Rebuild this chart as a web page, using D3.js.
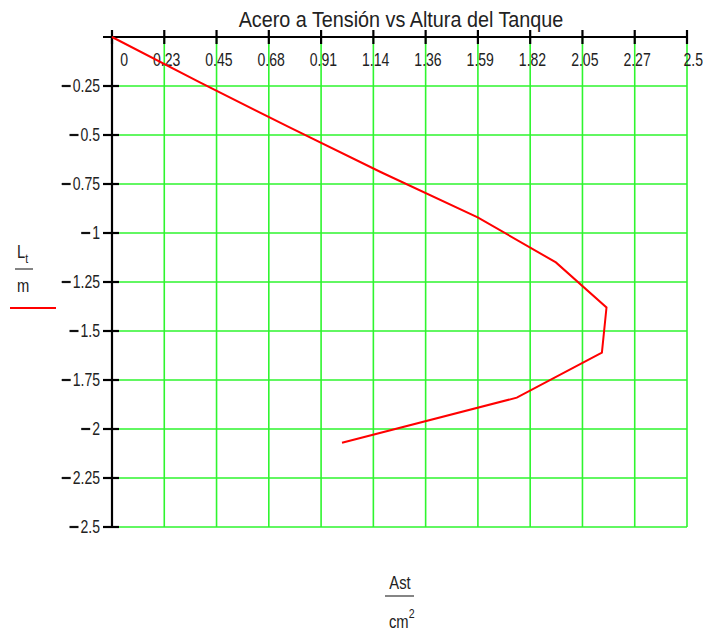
<!DOCTYPE html>
<html>
<head>
<meta charset="utf-8">
<script src="https://cdn.jsdelivr.net/npm/d3@7"></script>
<style>
  html, body { margin: 0; padding: 0; background: #fff; }
  svg text { font-family: "Liberation Sans Narrow", "Arial Narrow", "Liberation Sans", sans-serif; fill: #222; }
</style>
</head>
<body>
<svg id="chart" width="703" height="634"></svg>
<script>
// Acero a tensión (cm²) a lo largo de la altura del tanque (m)
const lt = [0, -0.23, -0.46, -0.69, -0.92, -1.15, -1.38, -1.61, -1.84, -2.07];
const ast = [0, 0.38, 0.77, 1.17, 1.59, 1.93, 2.15, 2.13, 1.76, 1.00];

const xTicks = [0, 0.23, 0.45, 0.68, 0.91, 1.14, 1.36, 1.59, 1.82, 2.05, 2.27, 2.5];
const xTickLabels = ["0", "0.23", "0.45", "0.68", "0.91", "1.14", "1.36", "1.59", "1.82", "2.05", "2.27", "2.5"];
const yTicks = [-0.25, -0.5, -0.75, -1, -1.25, -1.5, -1.75, -2, -2.25, -2.5];
const yTickLabels = ["0.25", "0.5", "0.75", "1", "1.25", "1.5", "1.75", "2", "2.25", "2.5"];

const title = "Acero a Tensión vs Altura del Tanque";

const svg = d3.select("#chart");
const plotL = 112, plotR = 687, plotT = 37, plotB = 527;

// condensed text: horizontally squeezed so the face reads narrow
function label(parent, X, Y, str, size, sx, anchor) {
  return parent.append("text")
    .attr("transform", `scale(${sx},1)`)
    .attr("x", X / sx).attr("y", Y)
    .attr("font-size", size)
    .attr("text-anchor", anchor || "start")
    .text(str);
}

// evenly spaced x grid (11 intervals over 0..2.5)
const x = d3.scaleLinear().domain([0, 2.5]).range([plotL, plotR]);
const y = d3.scaleLinear().domain([0, -2.5]).range([plotT, plotB]);
const xPos = (d, i) => plotL + i * (plotR - plotL) / (xTicks.length - 1);

const grid = svg.append("g").attr("stroke", "#2ef52e").attr("stroke-width", 1.6);
xTicks.forEach((d, i) => {
  if (i === 0) return;
  grid.append("line").attr("x1", xPos(d, i)).attr("x2", xPos(d, i)).attr("y1", plotT).attr("y2", plotB);
});
yTicks.forEach(d => {
  grid.append("line").attr("x1", plotL).attr("x2", plotR).attr("y1", y(d)).attr("y2", y(d));
});

// top x axis with ticks crossing the axis line
const axes = svg.append("g").attr("stroke", "#000").attr("stroke-width", 2.2);
axes.append("line").attr("x1", plotL - 9).attr("x2", plotR).attr("y1", plotT).attr("y2", plotT);
xTicks.forEach((d, i) => {
  axes.append("line").attr("x1", xPos(d, i)).attr("x2", xPos(d, i)).attr("y1", plotT - 7).attr("y2", plotT + 7);
});
// left y axis
axes.append("line").attr("x1", plotL).attr("x2", plotL).attr("y1", plotT).attr("y2", plotB);
yTicks.forEach(d => {
  axes.append("line").attr("x1", plotL - 9).attr("x2", plotL + 7).attr("y1", y(d)).attr("y2", y(d));
});

// x tick labels
const xl = svg.append("g");
xTickLabels.forEach((s, i) => label(xl, xPos(xTicks[i], i) + 16, 66, s, 18, 0.78, "end"));

// y tick labels: long dash then the magnitude
const yl = svg.append("g");
yTicks.forEach((d, i) => {
  const t = label(yl, 100, y(d) + 6.5, yTickLabels[i], 18, 0.78, "end");
  const w = t.node().getComputedTextLength() * 0.78;
  yl.append("line")
    .attr("x1", 100 - w - 11).attr("x2", 100 - w - 2)
    .attr("y1", y(d)).attr("y2", y(d))
    .attr("stroke", "#111").attr("stroke-width", 2.2);
});

// data line
const line = d3.line().x(d => x(d[0])).y(d => y(d[1]));
svg.append("path")
  .datum(ast.map((a, i) => [a, lt[i]]))
  .attr("d", line)
  .attr("fill", "none")
  .attr("stroke", "#ff0000")
  .attr("stroke-width", 2);

// title
label(svg, 401, 27, title, 22, 0.9, "middle");

// y label (legend): L_t / m with red sample line
const yLab = svg.append("g");
label(yLab, 17, 258, "L", 18, 0.82)
  .append("tspan").attr("font-size", 13).attr("dy", 5).text("t");
yLab.append("line").attr("x1", 15).attr("x2", 33).attr("y1", 269).attr("y2", 269)
  .attr("stroke", "#333").attr("stroke-width", 1.2);
label(yLab, 17, 292, "m", 18, 0.82);
yLab.append("line").attr("x1", 10).attr("x2", 56).attr("y1", 308).attr("y2", 308)
  .attr("stroke", "#ff0000").attr("stroke-width", 2);

// x label: Ast / cm^2
const xLab = svg.append("g");
label(xLab, 400, 589, "Ast", 18, 0.82, "middle");
xLab.append("line").attr("x1", 385).attr("x2", 414).attr("y1", 596).attr("y2", 596)
  .attr("stroke", "#333").attr("stroke-width", 1.2);
label(xLab, 389, 628, "cm", 18, 0.82)
  .append("tspan").attr("font-size", 13).attr("dy", -10).text("2");
</script>
</body>
</html>
